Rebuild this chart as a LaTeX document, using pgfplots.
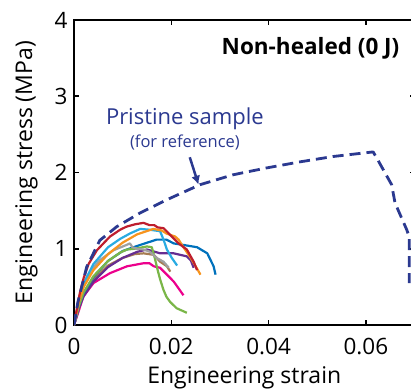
\documentclass[border=0pt]{standalone}
\usepackage{pgfplots}
\pgfplotsset{compat=1.18}
\usepackage{fontspec}
\setmainfont{Open Sans}
\usetikzlibrary{arrows.meta}
\definecolor{pris}{RGB}{43,57,144}
\definecolor{cred}{RGB}{190,30,45}
\definecolor{corange}{RGB}{247,148,30}
\definecolor{ccyan}{RGB}{41,171,226}
\definecolor{cblue}{RGB}{0,113,188}
\definecolor{cpurple}{RGB}{102,45,145}
\definecolor{cgray}{RGB}{160,160,160}
\definecolor{cbrown}{RGB}{166,124,82}
\definecolor{cgreen}{RGB}{122,182,72}
\definecolor{cmagenta}{RGB}{236,0,140}
\begin{document}
\begin{tikzpicture}
\begin{axis}[
  scale only axis, width=340.5pt, height=305pt,
  xmin=0, xmax=0.07, ymin=0, ymax=4,
  scaled x ticks=false,
  xtick={0,0.02,0.04,0.06}, xticklabels={0,0.02,0.04,0.06},
  ytick={0,1,2,3,4}, yticklabels={0,1,2,3,4},
  /pgf/number format/assume math mode=true,
  tick label style={font=\fontsize{22.5}{22.5}\selectfont},
  label style={font=\fontsize{23}{23}\selectfont},
  xticklabel style={yshift=-10pt},
  yticklabel style={xshift=-3pt},
  xlabel={Engineering strain}, ylabel={Engineering stress (MPa)},
  xlabel style={yshift=-5pt}, ylabel style={yshift=10pt},
  axis line style={line width=2.2pt},
  major tick length=5pt, tick style={line width=1.5pt, black},
  clip=true,
  every axis plot/.append style={line width=2.2pt, line join=round},
]
\addplot[cmagenta] coordinates {(0,0)(0.0008,0.15)(0.0019,0.37)(0.004,0.55)(0.0074,0.68)(0.0109,0.77)(0.0143,0.81)(0.0155,0.81)(0.0164,0.77)(0.0177,0.75)(0.0191,0.66)(0.0205,0.57)(0.0215,0.48)(0.0225,0.39)};
\addplot[cbrown] coordinates {(0,0)(0.001,0.23)(0.002,0.4)(0.004,0.6)(0.007,0.78)(0.010,0.88)(0.0125,0.93)(0.0143,0.94)(0.0164,0.92)(0.0177,0.83)(0.0191,0.77)(0.0198,0.70)};
\addplot[cpurple] coordinates {(0,0)(0.001,0.22)(0.002,0.38)(0.004,0.57)(0.007,0.76)(0.010,0.88)(0.013,0.96)(0.015,0.99)(0.0177,0.94)(0.0205,0.94)(0.0232,0.90)(0.024,0.85)(0.0246,0.75)};
\addplot[cblue] coordinates {(0,0)(0.001,0.25)(0.002,0.42)(0.004,0.63)(0.007,0.84)(0.010,0.97)(0.0136,1.05)(0.017,1.12)(0.019,1.12)(0.0205,1.07)(0.0225,1.05)(0.0253,1.02)(0.0274,0.94)(0.0287,0.77)(0.0291,0.66)};
\addplot[cgreen] coordinates {(0,0)(0.001,0.25)(0.002,0.43)(0.004,0.64)(0.007,0.84)(0.0095,0.95)(0.0109,0.99)(0.0125,1.0)(0.015,1.03)(0.016,1.02)(0.0166,0.88)(0.0172,0.72)(0.0177,0.6)(0.0184,0.46)(0.019,0.37)(0.0198,0.3)(0.0211,0.22)(0.0232,0.16)};
\addplot[cgray] coordinates {(0,0)(0.001,0.3)(0.002,0.52)(0.0035,0.72)(0.0053,0.85)(0.0081,0.98)(0.0108,1.05)(0.0115,1.07)(0.012,1.02)(0.0129,1.0)(0.0143,0.99)(0.0156,0.96)(0.017,0.88)(0.0184,0.83)(0.0195,0.75)};
\addplot[ccyan] coordinates {(0,0)(0.001,0.32)(0.002,0.55)(0.004,0.8)(0.007,1.02)(0.0095,1.13)(0.0115,1.2)(0.0136,1.26)(0.0155,1.25)(0.0177,1.23)(0.0184,1.12)(0.0191,0.99)(0.0201,0.88)(0.0212,0.78)};
\addplot[corange] coordinates {(0,0)(0.001,0.3)(0.002,0.5)(0.004,0.72)(0.007,0.93)(0.010,1.08)(0.013,1.19)(0.0163,1.26)(0.018,1.24)(0.019,1.2)(0.0208,1.16)(0.0215,1.12)(0.0225,1.02)(0.024,0.88)(0.0252,0.75)(0.026,0.66)};
\addplot[cred] coordinates {(0,0)(0.0005,0.18)(0.0012,0.42)(0.002,0.62)(0.003,0.80)(0.0047,0.98)(0.0074,1.16)(0.0095,1.25)(0.0108,1.29)(0.0125,1.32)(0.0143,1.34)(0.0155,1.31)(0.0165,1.31)(0.0172,1.28)(0.0184,1.27)(0.0198,1.18)(0.0215,1.07)(0.0232,0.99)(0.0246,0.83)(0.0253,0.72)};
\addplot[pris, line width=2.8pt, dash pattern=on 11pt off 6pt] coordinates {(0,0)(0.0008,0.3)(0.0026,0.76)(0.0053,1.11)(0.0088,1.29)(0.0136,1.47)(0.0190,1.64)(0.0259,1.84)(0.0327,1.97)(0.0396,2.06)(0.0465,2.14)(0.0533,2.21)(0.0615,2.27)(0.0625,2.16)(0.0653,1.84)(0.066,1.60)(0.0684,1.25)(0.0689,1.16)(0.0689,0.55)};
\node[anchor=east, font=\fontsize{22.5}{22.5}\selectfont\bfseries] at (axis cs:0.0676,3.63) {Non-healed (0 J)};
\node[pris, font=\fontsize{22}{22}\selectfont] at (axis cs:0.0228,2.71) {Pristine sample};
\node[pris, font=\fontsize{16.5}{16.5}\selectfont] at (axis cs:0.0228,2.39) {(for reference)};
\draw[pris, line width=2.5pt, -{Latex[length=9pt,width=9pt]}] (axis cs:0.0238,2.20) -- (axis cs:0.0256,1.84);
\coordinate (o) at (rel axis cs:0,0);
\coordinate (e) at (rel axis cs:1,1);
\end{axis}
\pgfresetboundingbox
\path[use as bounding box] ([xshift=-74pt,yshift=-65pt]o) rectangle ([xshift=-3.5pt,yshift=20pt]e);
\end{tikzpicture}
\end{document}
